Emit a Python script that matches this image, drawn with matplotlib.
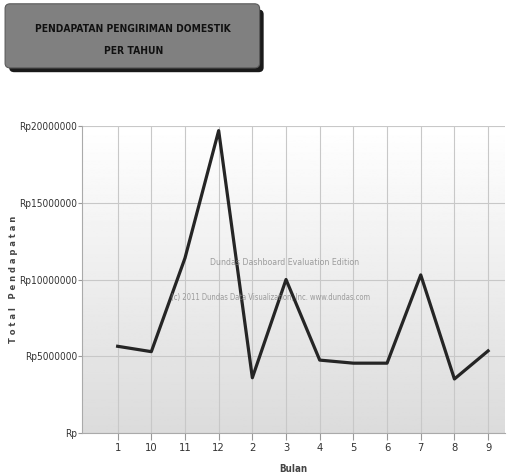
import matplotlib
matplotlib.use('Agg')
import matplotlib.pyplot as plt
import numpy as np
from matplotlib.patches import FancyBboxPatch
from matplotlib.ticker import FuncFormatter

# data
bulan = ['1', '10', '11', '12', '2', '3', '4', '5', '6', '7', '8', '9']
pendapatan = [5650000, 5300000, 11400000, 19700000, 3600000, 10000000,
              4750000, 4550000, 4550000, 10300000, 3520000, 5350000]
yticks = [0, 5000000, 10000000, 15000000, 20000000]

fnt = dict(family='DejaVu Sans', stretch='condensed')

fig = plt.figure(figsize=(5.09, 4.75), dpi=100)

# title box with shadow
shadow = FancyBboxPatch((0.018, 0.848), 0.5, 0.132, boxstyle='round,pad=0,rounding_size=0.01',
                        transform=fig.transFigure, facecolor='#1a1a1a', edgecolor='none', zorder=1)
box = FancyBboxPatch((0.010, 0.857), 0.5, 0.135, boxstyle='round,pad=0,rounding_size=0.01',
                     transform=fig.transFigure, facecolor='#808080', edgecolor='#5a5a5a',
                     linewidth=0.8, zorder=2)
fig.patches.extend([shadow, box])
fig.text(0.262, 0.940, 'PENDAPATAN PENGIRIMAN DOMESTIK', ha='center', va='center',
         fontsize=7.4, fontweight='bold', color='#111111', zorder=3, **fnt)
fig.text(0.262, 0.893, 'PER TAHUN', ha='center', va='center',
         fontsize=7.4, fontweight='bold', color='#111111', zorder=3, **fnt)

ax = fig.add_axes([0.161, 0.0884, 0.831, 0.6463])
x = np.arange(len(bulan))
ax.set_xlim(-1.06, 11.5)

# background gradient white -> light gray
grad = np.linspace(1.0, 0.86, 256).reshape(-1, 1)
ax.imshow(grad, cmap='gray', vmin=0, vmax=1, aspect='auto',
          extent=[-1.06, 11.5, 0, 20000000], zorder=0)
ax.set_ylim(0, 20000000)

ax.plot(x, pendapatan, color='#252525', linewidth=2.3, zorder=3)

ax.set_xticks(x)
ax.set_xticklabels(bulan, fontsize=8, color='#333333', **fnt)
ax.set_yticks(yticks)
ax.yaxis.set_major_formatter(FuncFormatter(lambda v, p: 'Rp' if v == 0 else 'Rp%d' % v))
for t in ax.get_yticklabels():
    t.set_family('DejaVu Sans')
    t.set_stretch('condensed')
    t.set_fontsize(7.2)
    t.set_color('#333333')
ax.grid(True, color='#c8c8c8', linewidth=0.8, zorder=1)
ax.tick_params(axis='x', length=5, color='#999999', width=0.8, pad=2)
ax.tick_params(axis='y', length=3, color='#999999', width=0.8, pad=0.5)

for s in ['top', 'right']:
    ax.spines[s].set_visible(False)
ax.spines['left'].set_color('#aaaaaa')
ax.spines['bottom'].set_color('#aaaaaa')

ax.set_ylabel('T o t a l   P e n d a p a t a n', fontsize=6, fontweight='bold',
              color='#444444')
ax.yaxis.set_label_coords(-0.152, 0.5)
ax.set_xlabel('Bulan', fontsize=7, fontweight='bold', color='#444444', labelpad=8, **fnt)

# evaluation watermark
ax.text(0.48, 0.555, 'Dundas Dashboard Evaluation Edition', transform=ax.transAxes,
        ha='center', va='center', fontsize=6.3, color='#888888', alpha=0.8, zorder=4, **fnt)
ax.text(0.447, 0.44, '(c) 2011 Dundas Data Visualization, Inc. www.dundas.com', transform=ax.transAxes,
        ha='center', va='center', fontsize=5.5, color='#888888', alpha=0.8, zorder=4, **fnt)

fig.savefig('out.png', dpi=100)
